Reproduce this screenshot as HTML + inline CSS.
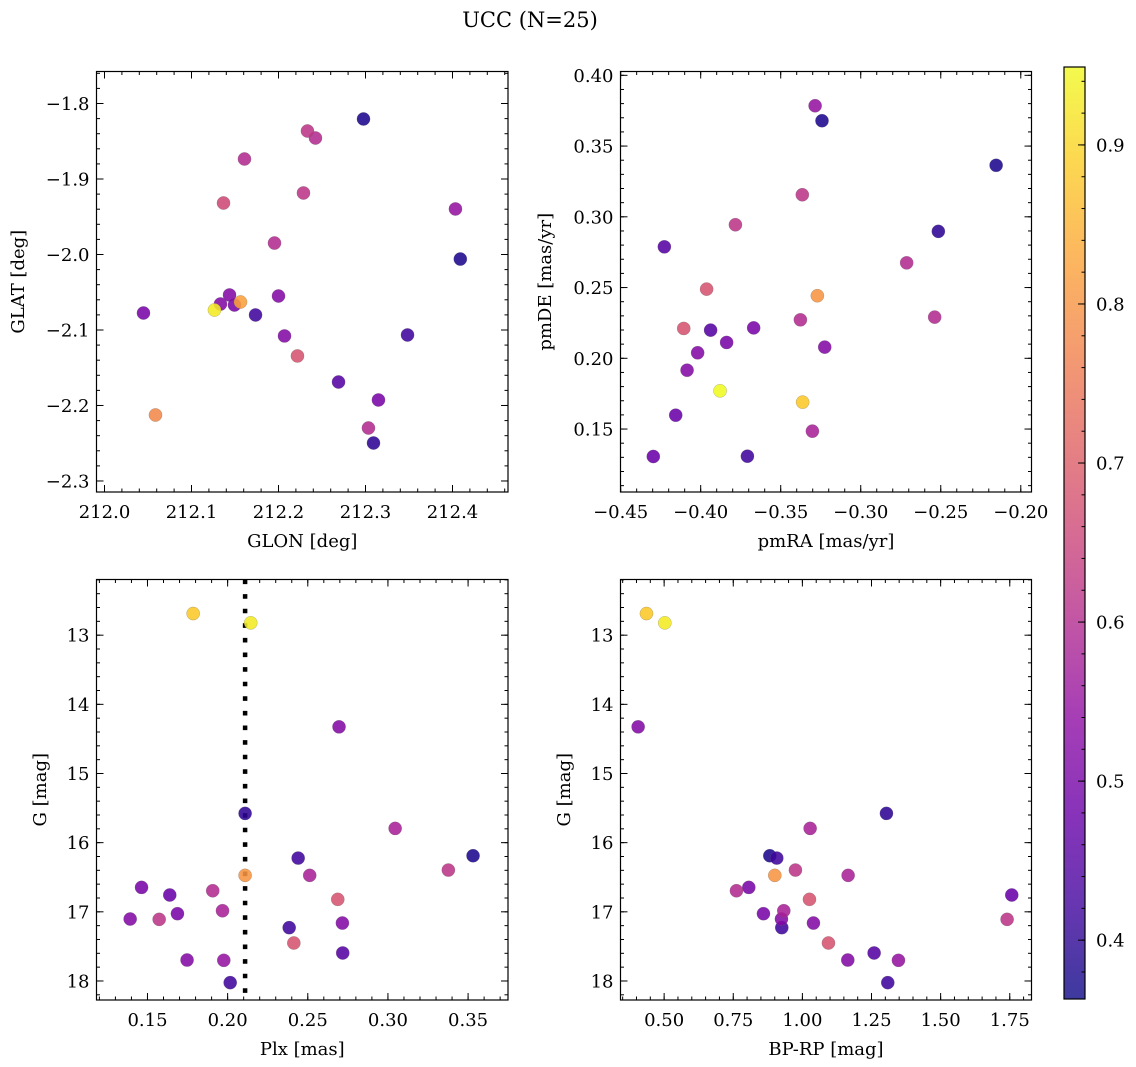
<!DOCTYPE html>
<html><head><meta charset="utf-8">
<style>
html,body{margin:0;padding:0;background:#fff;}
svg{display:block;font-family:"DejaVu Serif","Liberation Serif",serif;}
</style></head>
<body>
<svg id="fig" width="1136" height="1067" viewBox="0 0 1136 1067" xmlns="http://www.w3.org/2000/svg">
<text x="530" y="27" font-size="21" text-anchor="middle">UCC (N=25)</text>
</svg>
<script>
// ---- data ----
const glon = [212.0448,212.0586,212.1264,212.1333,212.1437,212.1494,212.1563,212.1736,212.1609,212.1368,212.1954,212.2000,212.2069,212.2218,212.2287,212.2333,212.2425,212.2690,212.2977,212.3034,212.3092,212.3149,212.3483,212.4034,212.4090];
const glat = [-2.0775,-2.2126,-2.0735,-2.0656,-2.0536,-2.0669,-2.0629,-2.0801,-1.8735,-1.9318,-1.9848,-2.0550,-2.1079,-2.1344,-1.9185,-1.8364,-1.8457,-2.1689,-1.8205,-2.2298,-2.2497,-2.1927,-2.1066,-1.9397,-2.0060];
const probPos = [0.50,0.78,0.93,0.52,0.52,0.50,0.82,0.42,0.60,0.66,0.60,0.52,0.52,0.68,0.62,0.62,0.60,0.45,0.38,0.60,0.40,0.50,0.42,0.55,0.38];

const pmra = [-0.3285,-0.3242,-0.2154,-0.3365,-0.3783,-0.2515,-0.4227,-0.2713,-0.3963,-0.3271,-0.3377,-0.2538,-0.4106,-0.3938,-0.3669,-0.3838,-0.3225,-0.4019,-0.4085,-0.3879,-0.3363,-0.4156,-0.3302,-0.4296,-0.3708];
const pmde = [0.3785,0.3679,0.3364,0.3156,0.2944,0.2897,0.2788,0.2675,0.2489,0.2442,0.2272,0.2291,0.2211,0.2199,0.2215,0.2112,0.2079,0.2039,0.1916,0.1770,0.1690,0.1598,0.1485,0.1306,0.1308];
const probPm = [0.55,0.38,0.38,0.62,0.62,0.40,0.45,0.60,0.68,0.80,0.60,0.60,0.68,0.45,0.50,0.50,0.52,0.52,0.52,0.95,0.88,0.48,0.58,0.48,0.42];

const gmag = [12.687,12.822,14.325,15.577,15.794,16.189,16.223,16.396,16.473,16.473,16.647,16.695,16.757,16.820,16.984,17.027,17.104,17.109,17.162,17.229,17.451,17.595,17.697,17.701,18.024];
const plx  = [0.1785,0.2144,0.2695,0.2109,0.3045,0.3531,0.2440,0.3377,0.2109,0.2512,0.1463,0.1907,0.1639,0.2687,0.1968,0.1687,0.1392,0.1573,0.2716,0.2384,0.2413,0.2718,0.1747,0.1976,0.2016];
const bprp = [0.4361,0.5024,0.4060,1.3040,1.0280,0.8821,0.9074,0.9749,0.9002,1.1654,0.8062,0.7616,1.7572,1.0256,0.9327,0.8592,0.9243,1.7404,1.0400,0.9255,1.0943,1.2594,1.1642,1.3474,1.3088];
const probPhot = [0.88,0.93,0.52,0.40,0.58,0.38,0.42,0.62,0.80,0.58,0.50,0.60,0.48,0.68,0.58,0.50,0.52,0.62,0.52,0.42,0.68,0.45,0.52,0.55,0.42];
const plxLine = [0.2109];

const ticksGlon = [212.0,212.1,212.2,212.3,212.4];
const ticksGlat = [-1.8,-1.9,-2.0,-2.1,-2.2,-2.3];
const ticksPmra = [-0.45,-0.40,-0.35,-0.30,-0.25,-0.20];
const ticksPmde = [0.40,0.35,0.30,0.25,0.20,0.15];
const ticksPlx = [0.15,0.20,0.25,0.30,0.35];
const ticksG = [13,14,15,16,17,18];
const ticksBprp = [0.50,0.75,1.00,1.25,1.50,1.75];
const ticksCbar = [0.4,0.5,0.6,0.7,0.8,0.9];

// ---- helpers ----
const NS="http://www.w3.org/2000/svg";
const svg=document.getElementById('fig');
function mk(tag,attrs,parent){const e=document.createElementNS(NS,tag);for(const k in attrs)e.setAttribute(k,attrs[k]);(parent||svg).appendChild(e);return e;}
const CMIN=0.363,CMAX=0.949;
const plasma=["#0d0887","#41049d","#6a00a8","#8f0da4","#b12a90","#cc4778","#e16462","#f2844b","#fca636","#fcce25","#f0f921"];
function hex(h){return [parseInt(h.substr(1,2),16),parseInt(h.substr(3,2),16),parseInt(h.substr(5,2),16)];}
function cmap(t){t=Math.max(0,Math.min(1,t));const s=t*10;const i=Math.min(9,Math.floor(s));const f=s-i;const a=hex(plasma[i]),b=hex(plasma[i+1]);
 return "rgb("+a.map((v,k)=>Math.round(v+(b[k]-v)*f)).join(",")+")";}
function colorOf(c){return cmap((c-CMIN)/(CMAX-CMIN));}
function fmt(v,d){const s=Math.abs(v).toFixed(d);return (v<0?"\u2212":"")+s;}
const FS=18;

function panel(cfg){
 const g=mk('g',{});
 
 
 const X=v=>cfg.x0+(v-cfg.xd[0])/(cfg.xd[1]-cfg.xd[0])*(cfg.x1-cfg.x0);
 const Y=v=>cfg.y0+(v-cfg.yd[0])/(cfg.yd[1]-cfg.yd[0])*(cfg.y1-cfg.y0);
 const tg=mk('g',{stroke:'#000','stroke-width':1},g);
 
 
 const xlo=Math.min(...cfg.xd),xhi=Math.max(...cfg.xd),ylo=Math.min(...cfg.yd),yhi=Math.max(...cfg.yd);
 for(let v=Math.ceil(xlo/cfg.xm-1e-6)*cfg.xm;v<=xhi+1e-9;v+=cfg.xm){const p=X(v);
  mk('line',{x1:p,x2:p,y1:cfg.y1,y2:cfg.y1-3.5},tg);mk('line',{x1:p,x2:p,y1:cfg.y0,y2:cfg.y0+3.5},tg);}
 for(let v=Math.ceil(ylo/cfg.ym-1e-6)*cfg.ym;v<=yhi+1e-9;v+=cfg.ym){const p=Y(v);
  mk('line',{y1:p,y2:p,x1:cfg.x0,x2:cfg.x0+3.5},tg);mk('line',{y1:p,y2:p,x1:cfg.x1,x2:cfg.x1-3.5},tg);}
 cfg.xt.forEach(v=>{const p=X(v);
  mk('line',{x1:p,x2:p,y1:cfg.y1,y2:cfg.y1-7},tg);mk('line',{x1:p,x2:p,y1:cfg.y0,y2:cfg.y0+7},tg);
  const t=mk('text',{x:p,y:cfg.y1+26,'font-size':FS,'text-anchor':'middle',stroke:'none'},g);
  
  
  t.textContent=fmt(v,cfg.xdec);});
 cfg.yt.forEach(v=>{const p=Y(v);
  mk('line',{y1:p,y2:p,x1:cfg.x0,x2:cfg.x0+7},tg);mk('line',{y1:p,y2:p,x1:cfg.x1,x2:cfg.x1-7},tg);
  const t=mk('text',{x:cfg.x0-7,y:p+6.5,'font-size':FS,'text-anchor':'end'},g);
  
  
  t.textContent=fmt(v,cfg.ydec);});
 if(cfg.vline!==undefined){const p=X(cfg.vline);
  const l=mk('line',{x1:p,x2:p,y1:cfg.y0,y2:cfg.y1,stroke:'#000','stroke-width':4.5,'stroke-dasharray':'4.6 10'},g);
  
  }
 const idx=cfg.xs.map((_,i)=>i).sort((a,b)=>cfg.cs[a]-cfg.cs[b]);
 idx.forEach(i=>{
  const c=mk('circle',{cx:X(cfg.xs[i]),cy:Y(cfg.ys[i]),r:6.6,fill:colorOf(cfg.cs[i]),'fill-opacity':0.88,stroke:'#666','stroke-opacity':0.45,'stroke-width':0.5},g);
  
  
 });
 const fr=mk('rect',{x:cfg.x0,y:cfg.y0,width:cfg.x1-cfg.x0,height:cfg.y1-cfg.y0,fill:'none',stroke:'#000','stroke-width':1.2},g);
 
 
 const xl=mk('text',{x:(cfg.x0+cfg.x1)/2,y:cfg.y1+55,'font-size':FS,'text-anchor':'middle'},g);
 
 
 xl.textContent=cfg.xlabel;
 const yc=(cfg.y0+cfg.y1)/2;
 const yl=mk('text',{x:cfg.ylx,y:yc,'font-size':FS,'text-anchor':'middle',transform:'rotate(-90 '+cfg.ylx+' '+yc+')'},g);
 
 
 yl.textContent=cfg.ylabel;
}

const TOP=[71.5,492],BOT=[579.5,1000],LEFT=[96.5,508],RIGHT=[620.5,1031.5];
panel({name:'glon-glat-panel',x0:LEFT[0],x1:LEFT[1],y0:TOP[0],y1:TOP[1],xd:[211.9908,212.4638],yd:[-1.7576,-2.3146],
 xt:ticksGlon,yt:ticksGlat,xm:0.02,ym:0.02,xdec:1,ydec:1,xs:glon,ys:glat,cs:probPos,xlabel:'GLON [deg]',ylabel:'GLAT [deg]',ylx:24});
panel({name:'pm-panel',x0:RIGHT[0],x1:RIGHT[1],y0:TOP[0],y1:TOP[1],xd:[-0.4501,-0.1933],yd:[0.4027,0.1055],
 xt:ticksPmra,yt:ticksPmde,xm:0.01,ym:0.01,xdec:2,ydec:2,xs:pmra,ys:pmde,cs:probPm,xlabel:'pmRA [mas/yr]',ylabel:'pmDE [mas/yr]',ylx:551});
panel({name:'plx-g-panel',x0:LEFT[0],x1:LEFT[1],y0:BOT[0],y1:BOT[1],xd:[0.1182,0.3749],yd:[12.195,18.275],
 xt:ticksPlx,yt:ticksG,xm:0.01,ym:0.2,xdec:2,ydec:0,xs:plx,ys:gmag,cs:probPhot,xlabel:'Plx [mas]',ylabel:'G [mag]',ylx:46,vline:plxLine[0]});
panel({name:'cmd-panel',x0:RIGHT[0],x1:RIGHT[1],y0:BOT[0],y1:BOT[1],xd:[0.3422,1.8286],yd:[12.195,18.275],
 xt:ticksBprp,yt:ticksG,xm:0.05,ym:0.2,xdec:2,ydec:0,xs:bprp,ys:gmag,cs:probPhot,xlabel:'BP-RP [mag]',ylabel:'G [mag]',ylx:570});

// ---- colorbar ----
const cb=mk('g',{});


const CB={x0:1064,x1:1085,y0:67,y1:999};
const defs=mk('defs',{});
const grad=mk('linearGradient',{id:'cbg',x1:0,y1:1,x2:0,y2:0},defs);
for(let i=0;i<=20;i++){mk('stop',{offset:(i/20),'stop-color':cmap(i/20)},grad);}
const cbr=mk('rect',{x:CB.x0,y:CB.y0,width:CB.x1-CB.x0,height:CB.y1-CB.y0,fill:'url(#cbg)','fill-opacity':0.8},cb);


const CY=v=>CB.y1-(v-CMIN)/(CMAX-CMIN)*(CB.y1-CB.y0);
for(let v=0.38;v<CMAX;v+=0.02){const p=CY(v);mk('line',{x1:CB.x1,x2:CB.x1-3.5,y1:p,y2:p,stroke:'#000','stroke-width':1},cb);}
ticksCbar.forEach(v=>{const p=CY(v);
 mk('line',{x1:CB.x1,x2:CB.x1-7,y1:p,y2:p,stroke:'#000','stroke-width':1},cb);
 const t=mk('text',{x:CB.x1+11,y:p+6.5,'font-size':FS},cb);
 
 
 t.textContent=v.toFixed(1);});
mk('rect',{x:CB.x0,y:CB.y0,width:CB.x1-CB.x0,height:CB.y1-CB.y0,fill:'none',stroke:'#000','stroke-width':1.2},cb);
</script>
</body></html>
